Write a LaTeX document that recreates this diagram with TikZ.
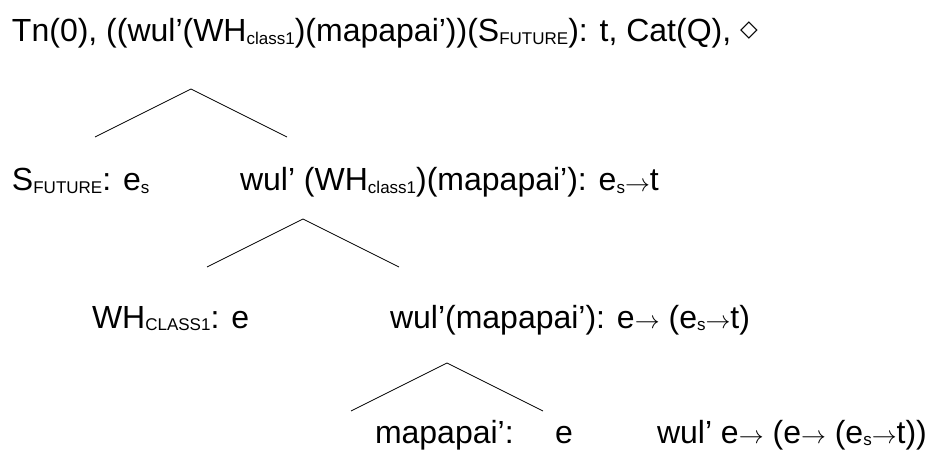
\documentclass[tikz,border=0pt]{standalone}
\usepackage{fontspec}
\setmainfont{Liberation Sans}
\newfontfamily\symfont{DejaVu Sans}
\newcommand{\subx}[1]{\raisebox{-2.5pt}{\fontsize{17}{17}\selectfont #1}}
\newcommand{\arr}{\raisebox{-0.5pt}{\fontsize{28}{28}\selectfont$\rightarrow$}}
\begin{document}
\begin{tikzpicture}[x=1pt,y=-1pt,
  lbl/.style={anchor=base west,inner sep=0pt,outer sep=0pt,font=\fontsize{32}{35}\selectfont},
  branch/.style={draw=black,line width=0.8pt}]
\useasboundingbox (0,0) rectangle (941,454);
% row 1
\node[lbl] (root) at (12,42) {Tn(0), ((wul’(WH\subx{class1})(mapapai’))(S\subx{FUTURE}): t, Cat(Q), {\symfont\fontsize{23}{23}\selectfont\raisebox{5pt}{◇}}};
% triangle 1
\coordinate (t1a) at (191,89);
\coordinate (t1l) at (95,137);
\coordinate (t1r) at (287,137);
\draw[branch] (t1l) -- (t1a) -- (t1r);
% row 2
\node[lbl] (sfut) at (12,191) {S\subx{FUTURE}: e\subx{s}};
\node[lbl] (wulA) at (240,191) {wul’ (WH\subx{class1})(mapapai’): e\subx{s}\arr t};
% triangle 2
\coordinate (t2a) at (303,219);
\coordinate (t2l) at (207,267);
\coordinate (t2r) at (399,267);
\draw[branch] (t2l) -- (t2a) -- (t2r);
% row 3
\node[lbl] (whc) at (92,328) {WH\subx{CLASS1}: e};
\node[lbl] (wulB) at (390,328) {wul’(mapapai’): e\arr{} (e\subx{s}\arr t)};
% triangle 3
\coordinate (t3a) at (447,363);
\coordinate (t3l) at (351,411);
\coordinate (t3r) at (543,411);
\draw[branch] (t3l) -- (t3a) -- (t3r);
% row 4
\node[lbl] (map) at (375,443) {mapapai’:};
\node[lbl] (e) at (555,443) {e};
\node[lbl] (wulC) at (657,443) {wul’ e\arr{} (e\arr{} (e\subx{s}\arr t))};
\end{tikzpicture}
\end{document}
